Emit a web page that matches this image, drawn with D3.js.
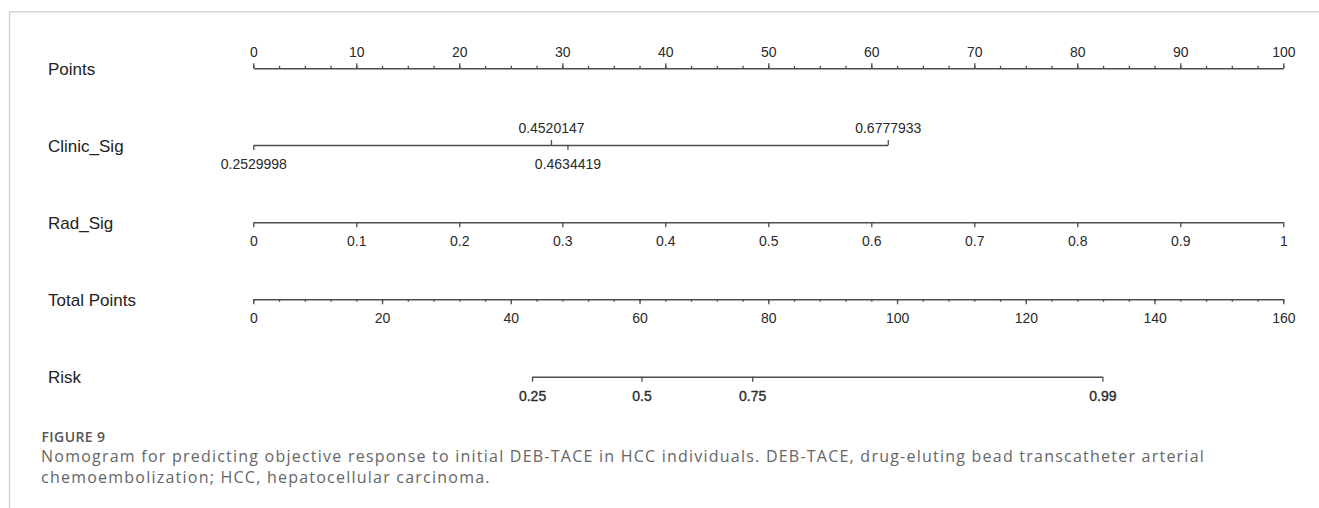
<!DOCTYPE html>
<html>
<head>
<meta charset="utf-8">
<script src="https://cdn.jsdelivr.net/npm/d3@7/dist/d3.min.js"></script>
<style>
  html, body { margin: 0; padding: 0; background: #fff; }
  svg { display: block; }
</style>
</head>
<body>
<svg id="chart" width="1319" height="508"></svg>
<script>
// ---------------- data ----------------
const rowLabels = ["Points", "Clinic_Sig", "Rad_Sig", "Total Points", "Risk"];

const pointsMajor = [0, 10, 20, 30, 40, 50, 60, 70, 80, 90, 100];
const pointsMinor = d3.range(0, 100.01, 2.5);

const clinicValues = [0.2529998, 0.4520147, 0.4634419, 0.6777933];
const clinicPoints = [0, 28.9, 30.5, 61.6];
const clinicSide   = ["below", "above", "below", "above"];

const radValues = [0, 0.1, 0.2, 0.3, 0.4, 0.5, 0.6, 0.7, 0.8, 0.9, 1];
const radPoints = [0, 10, 20, 30, 40, 50, 60, 70, 80, 90, 100];

const totalMajor = [0, 20, 40, 60, 80, 100, 120, 140, 160];
const totalMinor = d3.range(0, 160.01, 4);

const riskValues      = [0.25, 0.5, 0.75, 0.99];
const riskTotalPoints = [43.3, 60.3, 77.5, 131.9];

const captionTitle = "FIGURE 9";
const captionLines = [
  "Nomogram for predicting objective response to initial DEB-TACE in HCC individuals. DEB-TACE, drug-eluting bead transcatheter arterial",
  "chemoembolization; HCC, hepatocellular carcinoma."
];

// ---------------- layout ----------------
const svg = d3.select("#chart");
const X0 = 253.3, X1 = 1283.3;
const rowY = [68.3, 145, 222.3, 299.3, 376.7];
const lineColor = "#4d4d4d";
const tickFont = "'Liberation Sans', Arial, sans-serif";

// frame
svg.append("path")
  .attr("d", `M9.5,508V11.75H1319`)
  .attr("fill", "none").attr("stroke", "#d6d6d6").attr("stroke-width", 1.5);

const pointsX = d3.scaleLinear().domain([0, 100]).range([X0, X1]);
const totalX  = d3.scaleLinear().domain([0, 160]).range([X0, X1]);
const radX    = d3.scaleLinear().domain(radValues).range(radPoints.map(pointsX));
const clinicX = d3.scaleLinear().domain(clinicValues).range(clinicPoints.map(pointsX));
const riskX   = d3.scaleLinear().domain(riskValues).range(riskTotalPoints.map(totalX));

function styleAxis(g, hideDomain) {
  g.attr("font-family", tickFont).attr("font-size", 14);
  g.select(".domain").attr("stroke", lineColor).attr("stroke-width", 1.5)
    .style("display", hideDomain ? "none" : null);
  g.selectAll(".tick line").attr("stroke", lineColor).attr("stroke-width", 1.3);
  g.selectAll(".tick text").attr("fill", "#2a2a2a");
}

// row labels
svg.append("g").selectAll("text").data(rowLabels).join("text")
  .attr("x", 48).attr("y", (d, i) => rowY[i] + 6.5)
  .attr("font-family", tickFont).attr("font-size", 17).attr("fill", "#222")
  .text(d => d);

// Points
svg.append("g").attr("transform", `translate(0,${rowY[0]})`)
  .call(d3.axisTop(pointsX).tickValues(pointsMinor).tickSize(2.5).tickSizeOuter(0).tickFormat(""))
  .call(g => styleAxis(g, false));
svg.append("g").attr("transform", `translate(0,${rowY[0]})`)
  .call(d3.axisTop(pointsX).tickValues(pointsMajor).tickSize(5).tickPadding(6.6).tickSizeOuter(0).tickFormat(d3.format("d")))
  .call(g => styleAxis(g, true));

// Clinic_Sig
const clinicFmt = d => d3.format(".7f")(d);
svg.append("g").attr("transform", `translate(0,${rowY[1]})`)
  .call(d3.axisBottom(clinicX).tickValues(clinicValues.filter((v, i) => clinicSide[i] === "below"))
    .tickSize(5).tickPadding(9).tickSizeOuter(0).tickFormat(clinicFmt))
  .call(g => styleAxis(g, false));
svg.append("g").attr("transform", `translate(0,${rowY[1]})`)
  .call(d3.axisTop(clinicX).tickValues(clinicValues.filter((v, i) => clinicSide[i] === "above"))
    .tickSize(5).tickPadding(7).tickSizeOuter(0).tickFormat(clinicFmt))
  .call(g => styleAxis(g, true));

// Rad_Sig
svg.append("g").attr("transform", `translate(0,${rowY[2]})`)
  .call(d3.axisBottom(radX).tickValues(radValues).tickSize(5).tickPadding(9).tickSizeOuter(0)
    .tickFormat(d => d3.format("~g")(d)))
  .call(g => styleAxis(g, false));

// Total Points
svg.append("g").attr("transform", `translate(0,${rowY[3]})`)
  .call(d3.axisBottom(totalX).tickValues(totalMinor).tickSize(2.5).tickSizeOuter(0).tickFormat(""))
  .call(g => styleAxis(g, false));
svg.append("g").attr("transform", `translate(0,${rowY[3]})`)
  .call(d3.axisBottom(totalX).tickValues(totalMajor).tickSize(5).tickPadding(9).tickSizeOuter(0).tickFormat(d3.format("d")))
  .call(g => styleAxis(g, true));

// Risk
svg.append("g").attr("transform", `translate(0,${rowY[4]})`)
  .call(d3.axisBottom(riskX).tickValues(riskValues).tickSize(5).tickPadding(9).tickSizeOuter(0)
    .tickFormat(d => d3.format("~g")(d)))
  .call(g => styleAxis(g, false))
  .call(g => g.selectAll(".tick text").attr("stroke", "#2a2a2a").attr("stroke-width", 0.35));

// ---------------- caption ----------------
const capFont = "'Open Sans', 'Noto Sans', sans-serif";
const title = svg.append("text")
  .attr("x", 41.5).attr("y", 442)
  .attr("font-family", capFont).attr("font-weight", 600).attr("font-size", 14)
  .attr("fill", "#555").text(captionTitle);
{
  const node = title.node();
  const w = node.getComputedTextLength();
  title.attr("letter-spacing", ((64 - w) / node.textContent.length).toFixed(3));
}

const capBase = [461.5, 482.5];
const capText = svg.append("text")
  .attr("font-family", capFont).attr("font-size", 16).attr("fill", "#666");
const spans = capText.selectAll("tspan").data(captionLines).join("tspan")
  .attr("x", 41).attr("y", (d, i) => capBase[i]).text(d => d);
{
  const node = spans.nodes()[0];
  const w = node.getComputedTextLength();
  const ls = (1164 - w) / node.textContent.length;
  capText.attr("letter-spacing", ls.toFixed(3));
}
</script>
</body>
</html>
